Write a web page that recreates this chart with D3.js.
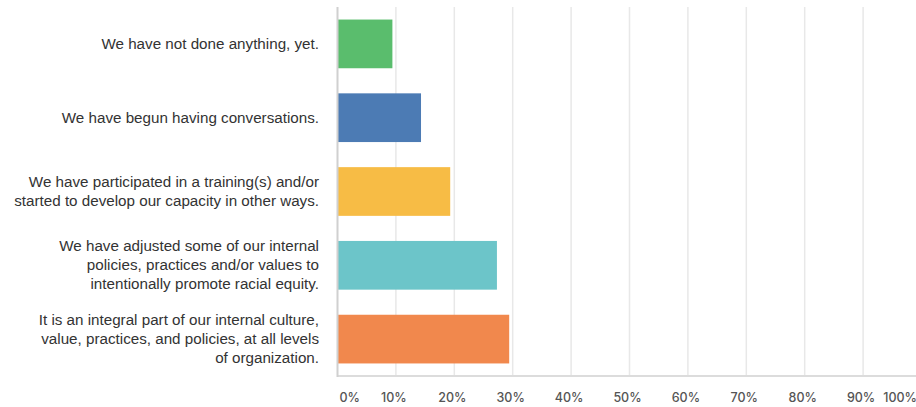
<!DOCTYPE html>
<html>
<head>
<meta charset="utf-8">
<script src="https://cdn.jsdelivr.net/npm/d3@7"></script>
<style>
  body { margin: 0; background: #fff; }
  svg { display: block; }
</style>
</head>
<body>
<div id="chart"></div>
<script>
// answers, top to bottom
var categories = [
  ["We have not done anything, yet."],
  ["We have begun having conversations."],
  ["We have participated in a training(s) and/or", "started to develop our capacity in other ways."],
  ["We have adjusted some of our internal", "policies, practices and/or values to", "intentionally promote racial equity."],
  ["It is an integral part of our internal culture,", "value, practices, and policies, at all levels", "of organization."]
];
var values = [0.094, 0.143, 0.193, 0.273, 0.294];
var colors = ["#5abd6d", "#4c7bb4", "#f7bc45", "#6cc5c9", "#f1884d"];
var ticks = [0, 0.1, 0.2, 0.3, 0.4, 0.5, 0.6, 0.7, 0.8, 0.9, 1];

var width = 916, height = 407;
var plotLeft = 337.5, plotTop = 7, plotBottom = 376;

var x = d3.scaleLinear().domain([0, 1]).range([plotLeft, plotLeft + 584]);
var y = d3.scaleBand().domain(d3.range(values.length))
    .range([plotTop, plotBottom]).paddingInner(0.34).paddingOuter(0.17);

var svg = d3.select('#chart').append('svg')
    .attr('width', width).attr('height', height);

// gridlines
svg.selectAll('line.grid').data(ticks.slice(1)).enter()
  .append('line').attr('class', 'grid')
  .attr('x1', d => x(d)).attr('x2', d => x(d))
  .attr('y1', plotTop).attr('y2', plotBottom)
  .attr('stroke', '#e8e8e8').attr('stroke-width', 1.5);

// bars
svg.selectAll('rect.bar').data(values).enter()
  .append('rect').attr('class', 'bar')
  .attr('x', x(0))
  .attr('y', (d, i) => y(i))
  .attr('width', d => x(d) - x(0))
  .attr('height', y.bandwidth())
  .attr('fill', (d, i) => colors[i]);

// axis lines
svg.append('line')
  .attr('x1', plotLeft).attr('x2', width)
  .attr('y1', plotBottom).attr('y2', plotBottom)
  .attr('stroke', '#dcdcdc').attr('stroke-width', 2);
svg.append('line')
  .attr('x1', plotLeft).attr('x2', plotLeft)
  .attr('y1', plotTop).attr('y2', plotBottom + 1)
  .attr('stroke', '#d0d0d0').attr('stroke-width', 2);

// tick labels
svg.selectAll('text.tick').data(ticks).enter()
  .append('text').attr('class', 'tick')
  .attr('x', (d, i) => i === 0 ? x(d) + 2 : (d === 1 ? width + 1 : x(d) - 2))
  .attr('y', 402)
  .attr('text-anchor', (d, i) => i === 0 ? 'start' : (d === 1 ? 'end' : 'middle'))
  .style('font-family', 'Inter, "Open Sans", sans-serif')
  .style('font-size', '12.5px')
  .style('font-weight', 500)
  .style('fill', '#555')
  .text(d => d3.format('.0%')(d));

// category labels
var lineH = 19;
var lab = svg.selectAll('text.cat').data(categories).enter()
  .append('text').attr('class', 'cat')
  .attr('text-anchor', 'end')
  .style('font-family', '"Liberation Sans", Arial, sans-serif')
  .style('font-size', '15.2px')
  .style('fill', '#333');

lab.each(function(lines, i) {
  var cy = y(i) + y.bandwidth() / 2;
  var y0 = cy - (lines.length - 1) * lineH / 2 + 5;
  d3.select(this).selectAll('tspan').data(lines).enter()
    .append('tspan')
    .attr('x', 319)
    .attr('y', (l, j) => y0 + j * lineH)
    .text(l => l);
});
</script>
</body>
</html>
